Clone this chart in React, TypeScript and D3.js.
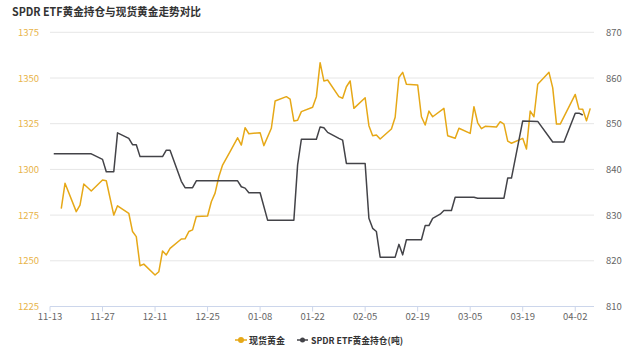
import React from "react";
import * as d3 from "d3";

const goldDates = [
  "2017-11-16","2017-11-17","2017-11-20","2017-11-21","2017-11-22","2017-11-24","2017-11-27","2017-11-28","2017-11-30",
  "2017-12-01","2017-12-04","2017-12-05","2017-12-06","2017-12-07","2017-12-08","2017-12-11","2017-12-12","2017-12-13",
  "2017-12-14","2017-12-15","2017-12-18","2017-12-19","2017-12-20","2017-12-21","2017-12-22","2017-12-25","2017-12-26",
  "2017-12-27","2017-12-28","2017-12-29","2017-12-31","2018-01-02","2018-01-03","2018-01-04","2018-01-05","2018-01-08",
  "2018-01-09","2018-01-11","2018-01-12","2018-01-15","2018-01-16","2018-01-17","2018-01-18","2018-01-19","2018-01-22",
  "2018-01-23","2018-01-24","2018-01-25","2018-01-26","2018-01-29","2018-01-30","2018-01-31","2018-02-01","2018-02-02",
  "2018-02-05","2018-02-06","2018-02-07","2018-02-08","2018-02-09","2018-02-12","2018-02-13","2018-02-14","2018-02-15",
  "2018-02-16","2018-02-19","2018-02-20","2018-02-21","2018-02-22","2018-02-23","2018-02-26","2018-02-27","2018-03-01",
  "2018-03-02","2018-03-05","2018-03-06","2018-03-07","2018-03-08","2018-03-09","2018-03-12","2018-03-13","2018-03-14",
  "2018-03-15","2018-03-16","2018-03-19","2018-03-20","2018-03-21","2018-03-22","2018-03-23","2018-03-26","2018-03-27",
  "2018-03-28","2018-03-29","2018-04-02","2018-04-03","2018-04-04","2018-04-05","2018-04-06",
];
const goldValues = [
  1278.5,1292.4,1276.9,1280.5,1292,1288.2,1294.2,1293.8,1275,
  1280.1,1276,1266,1263.2,1247.3,1248.2,1242.2,1244,1255.4,
  1253.2,1256.8,1261.9,1262,1266,1266.9,1274.2,1274.5,1282.3,
  1287,1296,1302.4,1309.7,1317.3,1313.3,1322.8,1319.5,1320.1,
  1313,1322.5,1337.4,1339.8,1338.5,1326.5,1326.9,1331.6,1334,
  1339.8,1358.4,1348.4,1348.9,1339.8,1338.9,1345.2,1348.4,1333.4,
  1339.2,1323.9,1318.4,1318.8,1316.6,1322.1,1328.5,1350.3,1353.1,
  1346.6,1346.2,1328.8,1324.3,1331.9,1328.8,1333.4,1318.4,1317,
  1322.5,1319.7,1334.3,1325.5,1322.3,1323.6,1323.2,1326.1,1324.8,
  1315.5,1314.3,1317,1311.2,1331.9,1328.8,1346.6,1353.1,1344.6,
  1324.8,1324.8,1341,1333,1332.9,1326.6,1333.4,
];

const spdrDates = [
  "2017-11-14","2017-11-24","2017-11-27","2017-11-28","2017-11-30","2017-12-01","2017-12-04","2017-12-05","2017-12-06",
  "2017-12-07","2017-12-13","2017-12-14","2017-12-15","2017-12-18","2017-12-19","2017-12-21","2017-12-22","2018-01-02",
  "2018-01-03","2018-01-04","2018-01-05","2018-01-08","2018-01-10","2018-01-17","2018-01-18","2018-01-19","2018-01-23",
  "2018-01-24","2018-01-25","2018-01-26","2018-01-29","2018-01-30","2018-01-31","2018-02-05","2018-02-06","2018-02-07",
  "2018-02-08","2018-02-09","2018-02-13","2018-02-14","2018-02-15","2018-02-16","2018-02-20","2018-02-21","2018-02-22",
  "2018-02-23","2018-02-25","2018-02-26","2018-02-28","2018-03-01","2018-03-06","2018-03-07","2018-03-14","2018-03-15",
  "2018-03-16","2018-03-19","2018-03-23","2018-03-27","2018-03-30","2018-04-02","2018-04-03","2018-04-04",
];
const spdrValues = [
  843.4,843.4,842.2,839.5,839.5,848.0,846.8,845.4,845.4,
  842.8,842.8,844.2,844.2,837.4,836,836,837.5,837.5,
  836.2,835.9,834.9,834.9,828.9,828.9,841,846.6,846.6,
  849.3,849.1,848.1,846.8,846.4,841.3,841.3,829.3,827.1,
  826.4,820.8,820.8,823.6,821.3,824.6,824.6,827.7,827.7,
  829.3,830.2,831,831,833.9,833.9,833.7,833.7,838.1,
  838.1,850.6,850.5,846,846,852.3,852.3,851.9,
];

const leftTicks = [1225, 1250, 1275, 1300, 1325, 1350, 1375];
const rightTicks = [810, 820, 830, 840, 850, 860, 870];
const xTickLabels = ["11-13","11-27","12-11","12-25","01-08","01-22","02-05","02-19","03-05","03-19","04-02"];

const title = "SPDR ETF黄金持仓与现货黄金走势对比";
const goldName = "现货黄金";
const spdrName = "SPDR ETF黄金持仓(吨)";

const GOLD = "#E6A817";
const DARK = "#434348";
const FONT = "'Noto Sans CJK SC', 'Noto Sans', sans-serif";

export default function App() {
  const W = 640, H = 355;
  const left = 50, right = 594, top = 32.3, bottom = 306.5;
  const parse = d3.timeParse("%Y-%m-%d");
  const start = parse("2017-11-13")!;
  const end = d3.timeDay.offset(start, 145);
  const x = d3.scaleTime().domain([start, end]).range([left, right]);
  const yL = d3.scaleLinear().domain([1225, 1375]).range([bottom, top]);
  const yR = d3.scaleLinear().domain([810, 870]).range([bottom, top]);

  const goldData = goldDates.map((d, i) => ({ d: parse(d)!, v: goldValues[i] }));
  const spdrData = spdrDates.map((d, i) => ({ d: parse(d)!, v: spdrValues[i] }));

  const goldLine = d3.line<{ d: Date; v: number }>().x(p => x(p.d)).y(p => yL(p.v))(goldData)!;
  const spdrLine = d3.line<{ d: Date; v: number }>().x(p => x(p.d)).y(p => yR(p.v))(spdrData)!;

  const xTicks = xTickLabels.map((lab, i) => ({ lab, d: d3.timeDay.offset(start, i * 14) }));

  return (
    <svg width={W} height={H} style={{ display: "block", position: "absolute", left: 0, top: 0, background: "#fff" }} fontFamily={FONT}>
      <text x={12} y={16} fontSize={11.5} fontWeight="bold" fill="#333" textLength={189} lengthAdjust="spacingAndGlyphs">{title}</text>
      {leftTicks.map(t => (
        <line key={"g" + t} x1={left} x2={right} y1={yL(t)} y2={yL(t)} stroke="#e6e6e6" strokeWidth={1} />
      ))}
      <line x1={left} x2={right} y1={bottom} y2={bottom} stroke="#ccd6eb" strokeWidth={1} />
      {xTicks.map(t => (
        <g key={t.lab}>
          <line x1={x(t.d)} x2={x(t.d)} y1={bottom} y2={bottom + 5} stroke="#ccd6eb" strokeWidth={1} />
          <text x={x(t.d)} y={319.5} fontSize={9.5} fill="#666" textAnchor="middle">{t.lab}</text>
        </g>
      ))}
      {leftTicks.map(t => (
        <text key={"l" + t} x={39} y={yL(t) + 3.5} fontSize={9.5} fill="#E8B44A" textAnchor="end">{t}</text>
      ))}
      {rightTicks.map(t => (
        <text key={"r" + t} x={606} y={yR(t) + 3.5} fontSize={9.5} fill="#666" textAnchor="start">{t}</text>
      ))}
      <path d={goldLine} fill="none" stroke={GOLD} strokeWidth={1.5} strokeLinejoin="round" />
      <path d={spdrLine} fill="none" stroke={DARK} strokeWidth={1.5} strokeLinejoin="round" />
      <g>
        <line x1={235} x2={247} y1={340} y2={340} stroke={GOLD} strokeWidth={1.5} />
        <circle cx={241} cy={340} r={3} fill={GOLD} />
        <text x={249} y={343.5} fontSize={9} fontWeight="bold" fill="#333">{goldName}</text>
        <line x1={297} x2={308} y1={340} y2={340} stroke={DARK} strokeWidth={1.5} />
        <circle cx={302.5} cy={340} r={2.5} fill={DARK} />
        <text x={311} y={343.5} fontSize={9} fontWeight="bold" fill="#333" textLength={92} lengthAdjust="spacingAndGlyphs">{spdrName}</text>
      </g>
    </svg>
  );
}
